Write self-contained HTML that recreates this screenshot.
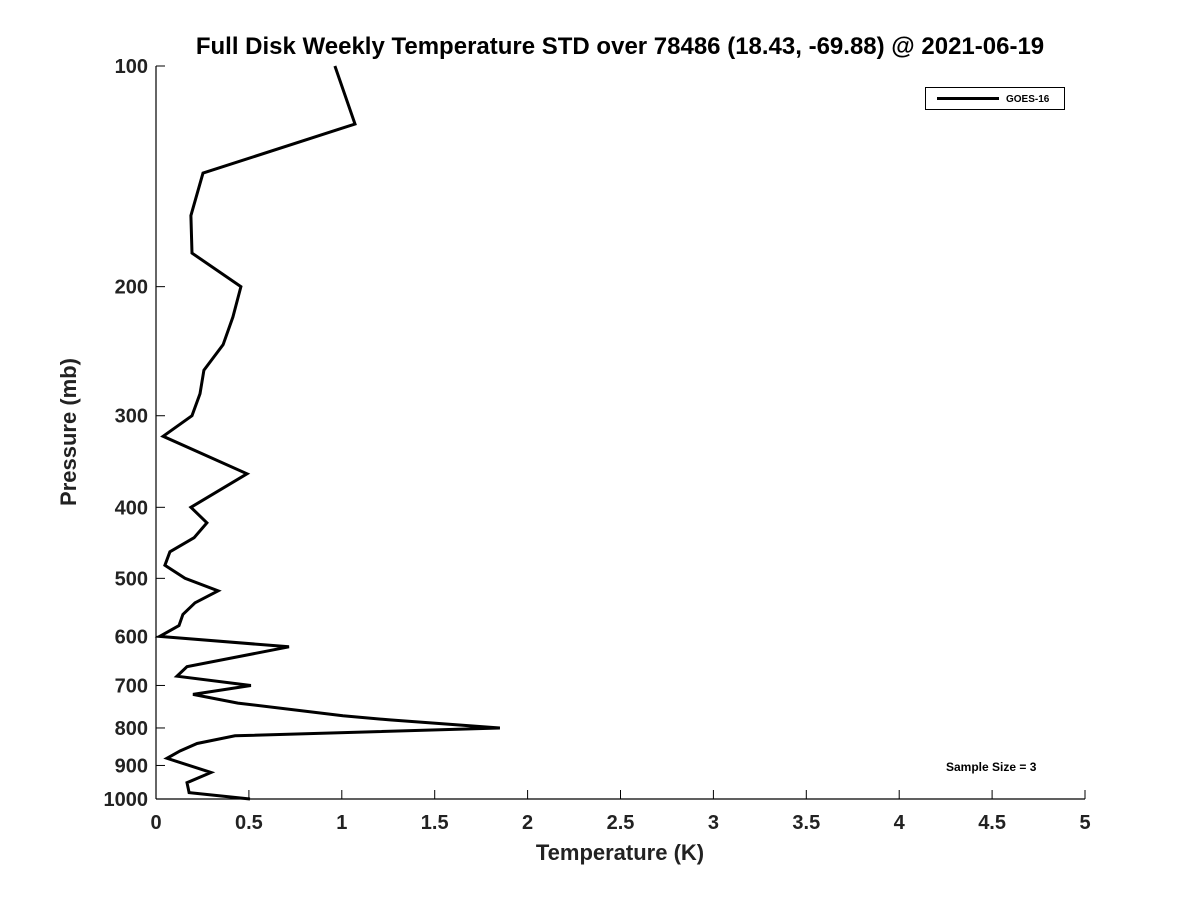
<!DOCTYPE html>
<html><head><meta charset="utf-8"><style>
body{margin:0;background:#fff;}
svg{display:block;font-family:"Liberation Sans","DejaVu Sans",sans-serif;}
</style></head><body>
<svg id="chart" width="1200" height="900" viewBox="0 0 1200 900">
<rect width="1200" height="900" fill="#fff"/>
<text x="620" y="54" text-anchor="middle" font-size="24" font-weight="bold" fill="#000">Full Disk Weekly Temperature STD over 78486 (18.43, -69.88) @ 2021-06-19</text>
<g id="axes"></g>
<path id="series" fill="none" stroke="#000" stroke-width="3" stroke-linejoin="miter"/>
<g>
<rect x="925.5" y="87.5" width="139" height="22" fill="#fff" stroke="#000" stroke-width="1"/>
<line x1="937" y1="98.5" x2="999" y2="98.5" stroke="#000" stroke-width="3"/>
<text x="1006" y="102" font-size="10" font-weight="bold">GOES-16</text>
</g>
<text x="946" y="771" font-size="12" font-weight="bold">Sample Size = 3</text>
<text x="620" y="860" text-anchor="middle" font-size="22" font-weight="bold" fill="#222">Temperature (K)</text>
<text transform="translate(76,432) rotate(-90)" text-anchor="middle" font-size="22" font-weight="bold" fill="#222">Pressure (mb)</text>
</svg>
<script>
const pressures=[100,120,140,160,180,200,220,240,260,280,300,320,360,400,420,440,460,480,500,520,540,560,580,600,620,660,680,700,720,740,770,780,800,820,840,860,880,920,950,980,1000];
const temps=[0.963,1.071,0.253,0.188,0.194,0.457,0.414,0.361,0.258,0.237,0.194,0.038,0.49,0.188,0.274,0.205,0.075,0.048,0.156,0.334,0.21,0.145,0.124,0.02,0.716,0.167,0.113,0.511,0.199,0.441,1.006,1.259,1.851,0.425,0.221,0.129,0.059,0.296,0.167,0.178,0.506];
const xTicks=[0,0.5,1,1.5,2,2.5,3,3.5,4,4.5,5];
const xTickLabels=["0","0.5","1","1.5","2","2.5","3","3.5","4","4.5","5"];
const yTicks=[100,200,300,400,500,600,700,800,900,1000];

const X0=156,X1=1085,Y0=66,Y1=799;
const xs=v=>X0+(v-0)/(5-0)*(X1-X0);
const ys=p=>Y0+(Math.log10(p)-2)/(3-2)*(Y1-Y0);
const NS="http://www.w3.org/2000/svg";
const axes=document.getElementById('axes');
function mk(tag,attrs,parent){const e=document.createElementNS(NS,tag);for(const k in attrs)e.setAttribute(k,attrs[k]);parent.appendChild(e);return e;}
const yAxis=mk('line',{x1:X0,y1:Y0,x2:X0,y2:Y1,stroke:'#000','stroke-width':1.2},axes);


const xAxis=mk('line',{x1:X0,y1:Y1,x2:X1,y2:Y1,stroke:'#000','stroke-width':1.2},axes);


xTicks.forEach((v,i)=>{
  const x=xs(v);
  const t=mk('line',{x1:x,y1:Y1,x2:x,y2:Y1-9,stroke:'#000','stroke-width':1},axes);
  
  
  const l=mk('text',{x:x,y:Y1+30,'text-anchor':'middle','font-size':20,'font-weight':'bold',fill:'#222'},axes);
  l.textContent=xTickLabels[i];
  
  
});
yTicks.forEach(p=>{
  const y=ys(p);
  const t=mk('line',{x1:X0,y1:y,x2:X0+9,y2:y,stroke:'#000','stroke-width':1},axes);
  
  
  const l=mk('text',{x:X0-8,y:y+7,'text-anchor':'end','font-size':20,'font-weight':'bold',fill:'#222'},axes);
  l.textContent=String(p);
  
  
});
document.getElementById('series').setAttribute('d',pressures.map((p,i)=>(i?'L':'M')+xs(temps[i]).toFixed(1)+','+ys(p).toFixed(1)).join(''));
</script>
</body></html>
